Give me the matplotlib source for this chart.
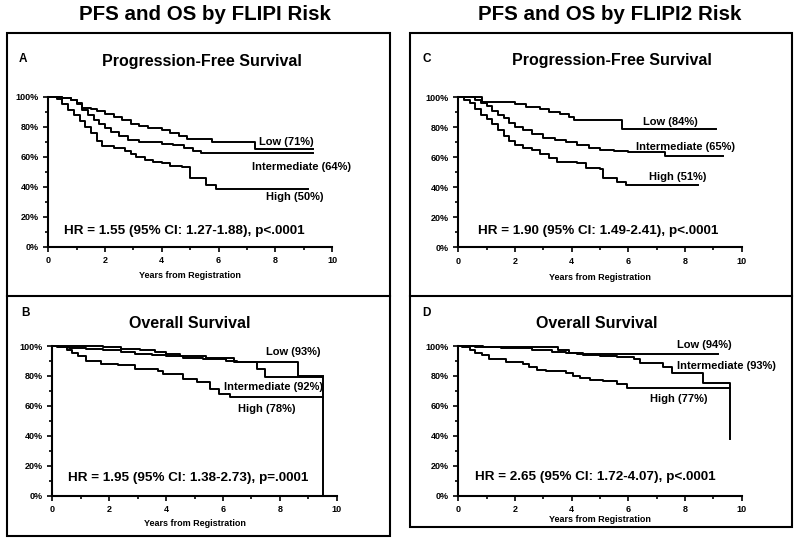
"""
Kaplan-Meier style PFS / OS panels by FLIPI and FLIPI2 risk group.
"""

import matplotlib
matplotlib.use("Agg")
import matplotlib.pyplot as plt
from matplotlib.patches import Rectangle
from matplotlib.ticker import MultipleLocator, FuncFormatter

plt.rcParams['font.family'] = ['Liberation Sans', 'DejaVu Sans']
plt.rcParams['font.weight'] = 'bold'

W, H = 800, 543

# ---- panel A: PFS by FLIPI (years, % surviving) ----
a_low_t  = [0, 0.5, 0.8, 1.0, 1.2, 1.5, 1.7, 2.0, 2.3, 2.6, 2.9, 3.2, 3.5, 4.0, 4.3, 4.6, 4.9, 5.76, 7.28, 9.33]
a_low_s  = [100, 99, 97.5, 95.5, 92.5, 91.5, 90.5, 88.5, 86.5, 84.5, 82, 80.5, 79, 77.5, 75.5, 73.5, 71.5, 70, 65, 65]
a_int_t  = [0, 0.5, 0.8, 1.0, 1.2, 1.4, 1.6, 1.8, 2.0, 2.2, 2.5, 2.8, 3.2, 3.6, 4.0, 4.4, 4.8, 5.1, 5.4, 9.33]
a_int_s  = [100, 99, 97.5, 95, 91, 87.5, 84.5, 81.5, 79, 76.5, 74, 71, 70, 69.5, 68.5, 67.5, 66, 64, 62.5, 62.5]
a_high_t = [0, 0.3, 0.5, 0.7, 0.9, 1.1, 1.3, 1.5, 1.7, 1.9, 2.3, 2.7, 2.9, 3.1, 3.4, 3.7, 4.0, 4.3, 4.7, 5.0, 5.55, 5.9, 9.15]
a_high_s = [100, 98.5, 95, 91, 87.5, 84, 80, 76, 70.5, 67, 65.5, 64, 62, 60, 58, 56.5, 56, 54, 53, 45.5, 41, 38.5, 38.5]

# ---- panel B: OS by FLIPI ----
b_low_t  = [0, 1.8, 2.4, 3.1, 3.6, 4.0, 4.5, 5.4, 6.4, 8.65, 9.53]
b_low_s  = [100, 99, 98, 97, 96, 94.5, 93, 92, 89.5, 80.2, 80.2]
b_int_t  = [0, 0.2, 0.6, 1.2, 1.8, 2.4, 2.9, 3.5, 4.0, 4.6, 5.3, 6.1, 6.5, 7.21, 7.48, 9.53, 9.53]
b_int_s  = [100, 99.5, 98.5, 98, 97, 96, 94.5, 94, 93, 92, 91.5, 90, 89.5, 84.4, 79.5, 79.5, 0]
b_high_t = [0, 0.15, 0.5, 0.7, 0.9, 1.2, 1.7, 2.3, 2.9, 3.7, 3.9, 4.6, 5.1, 5.55, 5.85, 6.25, 9.53]
b_high_s = [100, 99, 97, 95, 93, 90, 88, 87, 84.5, 83, 81, 78, 76, 71, 68, 65.7, 65.7]

# ---- panel C: PFS by FLIPI2 ----
c_low_t  = [0, 0.82, 2.0, 2.4, 2.9, 3.2, 3.6, 3.9, 4.1, 5.76, 9.1]
c_low_s  = [100, 97, 95.5, 93.3, 92, 90.4, 88.9, 87, 85, 79.2, 79.2]
c_int_t  = [0, 0.6, 0.8, 1.0, 1.2, 1.4, 1.6, 1.8, 2.0, 2.3, 2.6, 3.0, 3.4, 3.8, 4.2, 4.6, 5.0, 5.5, 6.0, 7.3, 9.35]
c_int_s  = [100, 98.5, 96.5, 94, 91, 88.5, 86, 83, 80.5, 78, 75.5, 73, 71.5, 70, 68, 66.5, 65, 64, 63.5, 61, 61]
c_high_t = [0, 0.2, 0.4, 0.6, 0.8, 1.0, 1.2, 1.4, 1.6, 1.8, 2.0, 2.3, 2.6, 2.9, 3.2, 3.5, 4.2, 4.5, 5.0, 5.1, 5.6, 5.9, 8.47]
c_high_s = [100, 98.5, 96, 92.5, 88.5, 85.5, 82, 78, 74.5, 71, 68.5, 66.5, 65, 62, 59.5, 57, 56, 53, 52, 46, 43.5, 41.5, 41.5]

# ---- panel D: OS by FLIPI2 ----
d_low_t  = [0, 0.88, 3.53, 3.9, 4.2, 9.18]
d_low_s  = [100, 99, 97, 95.5, 94.4, 94.4]
d_int_t  = [0, 0.6, 1.5, 2.6, 3.3, 3.8, 4.4, 5.0, 5.6, 6.2, 6.4, 7.24, 7.53, 8.65, 9.57, 9.57]
d_int_s  = [100, 99, 98.5, 97, 96, 95, 94, 93.5, 92.5, 91, 88.9, 85.8, 81.8, 75.1, 75.1, 37.7]
d_high_t = [0, 0.12, 0.4, 0.6, 0.82, 1.1, 1.7, 2.3, 2.5, 2.76, 3.1, 3.8, 4.05, 4.3, 4.65, 5.1, 5.6, 5.95, 9.57]
d_high_s = [100, 99, 97, 95.5, 94, 91, 89.5, 88, 86, 84, 83, 82, 80, 78.5, 77, 76.5, 74.5, 72.2, 72.2]

group_labels = {
    "A": ["Low (71%)", "Intermediate (64%)", "High (50%)"],
    "B": ["Low (93%)", "Intermediate (92%)", "High (78%)"],
    "C": ["Low (84%)", "Intermediate (65%)", "High (51%)"],
    "D": ["Low (94%)", "Intermediate (93%)", "High (77%)"],
}
hr_text = {
    "A": "HR = 1.55 (95% CI: 1.27-1.88), p<.0001",
    "B": "HR = 1.95 (95% CI: 1.38-2.73), p=.0001",
    "C": "HR = 1.90 (95% CI: 1.49-2.41), p<.0001",
    "D": "HR = 2.65 (95% CI: 1.72-4.07), p<.0001",
}


def frac(left, top, right, bottom):
    return [left / W, 1 - bottom / H, (right - left) / W, (bottom - top) / H]


def fig_text(fig, x, y, s, **kw):
    fig.text(x / W, 1 - y / H, s, **kw)


def draw_panel(fig, rect, curves, labels, label_pos, hr, hr_pos, xlabel_y):
    ax = fig.add_axes(frac(*rect))
    for t, s in curves:
        ax.step(t, s, where="post", color="black", lw=1.4, clip_on=False)

    ax.set_xlim(0, 10)
    ax.set_ylim(0, 100)
    for side in ("top", "right"):
        ax.spines[side].set_visible(False)
    for side in ("left", "bottom"):
        ax.spines[side].set_linewidth(1.5)

    ax.xaxis.set_major_locator(MultipleLocator(2))
    ax.xaxis.set_minor_locator(MultipleLocator(1))
    ax.yaxis.set_major_locator(MultipleLocator(20))
    ax.yaxis.set_minor_locator(MultipleLocator(10))
    ax.yaxis.set_major_formatter(FuncFormatter(lambda v, p: "%d%%" % v))
    ax.tick_params(which="major", length=3.5, width=1.2, labelsize=6.5, pad=3.5)
    ax.tick_params(which="minor", length=2.5, width=1.2)
    for lab in ax.get_xticklabels() + ax.get_yticklabels():
        lab.set_fontweight("bold")

    ax.set_xlabel("Years from Registration", fontsize=6.5, fontweight="bold")
    ax.xaxis.set_label_coords(0.5, xlabel_y)
    ax.xaxis.label.set_va("center")

    for txt, (x, y) in zip(labels, label_pos):
        ax.text(x, y, txt, fontsize=8, fontweight="bold", ha="left", va="center")
    ax.text(hr_pos[0], hr_pos[1], hr, fontsize=9.7, fontweight="bold",
            ha="center", va="center")
    return ax


fig = plt.figure(figsize=(W / 100, H / 100), dpi=100)

# outer boxes and dividers
for x0, x1, y1 in ((7, 390, 536), (410, 791.7, 527)):
    fig.patches.append(Rectangle((x0 / W, 1 - y1 / H), (x1 - x0) / W, (y1 - 33.3) / H,
                                 transform=fig.transFigure, fill=False, lw=1.5, ec="black"))
    fig.add_artist(plt.Line2D([x0 / W, x1 / W], [1 - 296 / H, 1 - 296 / H],
                              transform=fig.transFigure, color="black", lw=1.5))

fig_text(fig, 205, 15, "PFS and OS by FLIPI Risk", fontsize=14.8, fontweight="bold", ha="center", va="center")
fig_text(fig, 610, 15, "PFS and OS by FLIPI2 Risk", fontsize=14.8, fontweight="bold", ha="center", va="center")

fig_text(fig, 22.7, 59.3, "A", fontsize=8.5, fontweight="bold", ha="center", va="center")
fig_text(fig, 426.7, 59.3, "C", fontsize=8.5, fontweight="bold", ha="center", va="center")
fig_text(fig, 26, 312.7, "B", fontsize=8.5, fontweight="bold", ha="center", va="center")
fig_text(fig, 426.7, 312.7, "D", fontsize=8.5, fontweight="bold", ha="center", va="center")

fig_text(fig, 201.7, 61.7, "Progression-Free Survival", fontsize=11.5, fontweight="bold", ha="center", va="center")
fig_text(fig, 611.7, 60.7, "Progression-Free Survival", fontsize=11.5, fontweight="bold", ha="center", va="center")
fig_text(fig, 190, 323.3, "Overall Survival", fontsize=11.5, fontweight="bold", ha="center", va="center")
fig_text(fig, 596.7, 323.3, "Overall Survival", fontsize=11.5, fontweight="bold", ha="center", va="center")

draw_panel(fig, (48.3, 96.7, 332, 246.7),
           [(a_low_t, a_low_s), (a_int_t, a_int_s), (a_high_t, a_high_s)],
           group_labels["A"], [(7.43, 70), (7.19, 53.3), (7.66, 32.9)],
           hr_text["A"], (4.78, 10.7), -0.189)
draw_panel(fig, (52.3, 346, 336.7, 495.7),
           [(b_low_t, b_low_s), (b_int_t, b_int_s), (b_high_t, b_high_s)],
           group_labels["B"], [(7.5, 96), (6.04, 72.8), (6.52, 57.9)],
           hr_text["B"], (4.78, 11.6), -0.184)
draw_panel(fig, (458.3, 97.3, 741.7, 247.3),
           [(c_low_t, c_low_s), (c_int_t, c_int_s), (c_high_t, c_high_s)],
           group_labels["C"], [(6.5, 83.7), (6.27, 67), (6.74, 47)],
           hr_text["C"], (4.94, 11), -0.2)
draw_panel(fig, (458.3, 346, 741.7, 495.7),
           [(d_low_t, d_low_s), (d_int_t, d_int_s), (d_high_t, d_high_s)],
           group_labels["D"], [(7.71, 100.7), (7.71, 86.6), (6.77, 64.4)],
           hr_text["D"], (4.83, 12.7), -0.162)

fig.savefig("out.png", dpi=100)
